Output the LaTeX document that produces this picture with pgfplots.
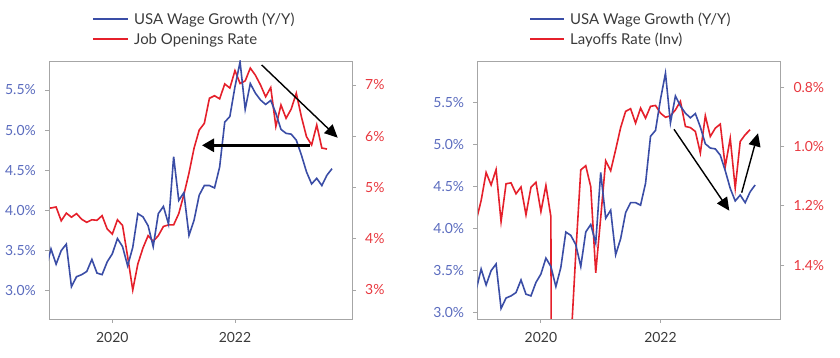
\documentclass[border=0pt]{standalone}
\usepackage{fontspec}
\setmainfont{Lato}
\usepackage{pgfplots}
\usepackage{pgfplotstable}
\pgfplotsset{compat=1.18}
\usetikzlibrary{arrows.meta}
\definecolor{wblue}{HTML}{3A4DA6}
\definecolor{wred}{HTML}{E5202B}
\definecolor{tblue}{HTML}{5A6BBE}
\definecolor{tred}{HTML}{E8383F}
\definecolor{agray}{HTML}{A6A6A6}
\definecolor{tgray}{HTML}{3A3A3A}

\pgfplotstableread{
m wage jo lay
-1 3.27 4.60 1.25
0 3.52 4.60 1.182
1 3.33 4.62 1.087
2 3.50 4.35 1.129
3 3.58 4.50 1.077
4 3.05 4.42 1.253
5 3.175 4.49 1.125
6 3.20 4.38 1.122
7 3.24 4.32 1.159
8 3.39 4.37 1.136
9 3.22 4.36 1.23
10 3.20 4.45 1.137
11 3.36 4.19 1.12
12 3.46 4.09 1.219
13 3.65 4.37 1.131
14 3.55 4.26 1.236
15 3.31 3.65 7.5
16 3.54 3.00 5.0
17 3.96 3.51 2.6
18 3.92 3.82 1.67
19 3.81 4.06 1.36
20 3.55 3.95 1.078
21 3.96 4.06 1.064
22 4.05 4.24 1.135
23 3.83 4.27 1.426
24 4.67 4.27 1.24
25 4.125 4.49 1.047
26 4.22 4.86 1.081
27 3.69 5.28 1.01
28 3.88 5.77 0.935
29 4.19 6.12 0.88
30 4.31 6.25 0.871
31 4.31 6.74 0.92
32 4.28 6.79 0.869
33 4.54 6.73 0.903
34 5.10 7.02 0.863
35 5.17 6.94 0.86
36 5.54 7.28 0.886
37 5.85 7.03 0.90
38 5.26 7.08 0.895
39 5.58 7.33 0.875
40 5.46 7.19 0.846
41 5.375 7.00 0.931
42 5.32 6.77 0.935
43 5.37 6.95 0.948
44 5.21 6.19 1.021
45 5.01 6.61 0.895
46 4.96 6.35 0.965
47 4.95 6.53 0.937
48 4.875 6.84 0.923
49 4.69 6.38 1.067
50 4.48 5.99 0.971
51 4.33 5.83 1.14
52 4.40 6.22 0.982
53 4.31 5.77 0.959
54 4.44 5.75 0.942
}\datatable
\pgfplotstableread{
m wage
55 4.52
}\wagetail

\pgfplotsset{
  mybase/.style={scale only axis, width=303bp, height=258bp, anchor=south west,
    axis line style={draw=agray, line width=0.9bp},
    every tick/.style={agray, line width=0.9bp},
    major tick length=4bp, tick align=outside,
    ticklabel style={font=\fontsize{14}{16}\selectfont, inner sep=0pt},
  },
  blueax/.style={mybase, tick pos=left,
    xtick={12,36}, xticklabels={2020,2022},
    xticklabel style={text=tgray, yshift=-9bp},
    yticklabel style={text=tblue, xshift=-9bp},
  },
  redax/.style={mybase, axis x line=none, axis y line*=right,
    yticklabel style={text=tred, xshift=9bp},
  },
}

\begin{document}
\begin{tikzpicture}
\path[use as bounding box] (0bp,0bp) rectangle (840bp,358bp);

% ---------- Left chart ----------
\begin{axis}[redax, at={(49bp,39bp)}, xmin=-0.39, xmax=58.9, ymin=2.434, ymax=7.468,
  ytick={3,4,5,6,7}, yticklabels={3\%,4\%,5\%,6\%,7\%}]
\addplot[wred, line width=1.6bp] table[x=m, y=jo] {\datatable};
\end{axis}
\begin{axis}[blueax, at={(49bp,39bp)}, xmin=-0.39, xmax=58.9, ymin=2.648, ymax=5.861,
  ytick={3,3.5,4,4.5,5,5.5}, yticklabels={3.0\%,3.5\%,4.0\%,4.5\%,5.0\%,5.5\%}]
\addplot[wblue, line width=1.6bp] table[x=m, y=wage] {\datatable};
\addplot[wblue, line width=1.6bp] coordinates {(54,4.44) (55,4.52)};
\end{axis}

% ---------- Right chart ----------
\begin{axis}[redax, at={(477.3bp,39bp)}, xmin=-0.77, xmax=60.05, ymin=0.7096, ymax=1.5827,
  y dir=reverse,
  ytick={0.8,1.0,1.2,1.4}, yticklabels={0.8\%,1.0\%,1.2\%,1.4\%}]
\addplot[wred, line width=1.6bp] table[x=m, y=lay] {\datatable};
\end{axis}
\begin{axis}[blueax, at={(477.3bp,39bp)}, xmin=-0.77, xmax=60.05, ymin=2.925, ymax=5.996,
  ytick={3,3.5,4,4.5,5,5.5}, yticklabels={3.0\%,3.5\%,4.0\%,4.5\%,5.0\%,5.5\%}]
\addplot[wblue, line width=1.6bp] table[x=m, y=wage] {\datatable};
\addplot[wblue, line width=1.6bp] coordinates {(54,4.44) (55,4.52)};
\end{axis}

% ---------- Legends ----------
\draw[wblue, line width=1.6bp] (93bp,338.7bp) -- (128bp,338.7bp);
\node[anchor=base west, inner sep=0pt, text=tgray, font=\fontsize{15}{17}\selectfont] at (134bp,333.7bp) {USA Wage Growth (Y/Y)};
\draw[wred, line width=1.6bp] (93bp,318.7bp) -- (128bp,318.7bp);
\node[anchor=base west, inner sep=0pt, text=tgray, font=\fontsize{15}{17}\selectfont] at (134bp,313.7bp) {Job Openings Rate};

\draw[wblue, line width=1.6bp] (530bp,338.7bp) -- (564bp,338.7bp);
\node[anchor=base west, inner sep=0pt, text=tgray, font=\fontsize{15}{17}\selectfont] at (570bp,333.7bp) {USA Wage Growth (Y/Y)};
\draw[wred, line width=1.6bp] (530bp,318.7bp) -- (564bp,318.7bp);
\node[anchor=base west, inner sep=0pt, text=tgray, font=\fontsize{15}{17}\selectfont] at (570bp,313.7bp) {Layoffs Rate (Inv)};

% ---------- Annotation arrows ----------
\draw[black, line width=1.4bp, -{Triangle[length=13bp, width=12bp]}] (261.7bp,293bp) -- (337.7bp,220.3bp);
\draw[black, line width=2.8bp, -{Triangle[length=12bp, width=13bp]}] (310bp,212.7bp) -- (202bp,212.7bp);
\draw[black, line width=1.4bp, -{Triangle[length=13bp, width=12bp]}] (674bp,228.7bp) -- (729.3bp,147.3bp);
\draw[black, line width=1.4bp, -{Triangle[length=13bp, width=12bp]}] (741.7bp,165.3bp) -- (758bp,224.7bp);
\end{tikzpicture}
\end{document}
